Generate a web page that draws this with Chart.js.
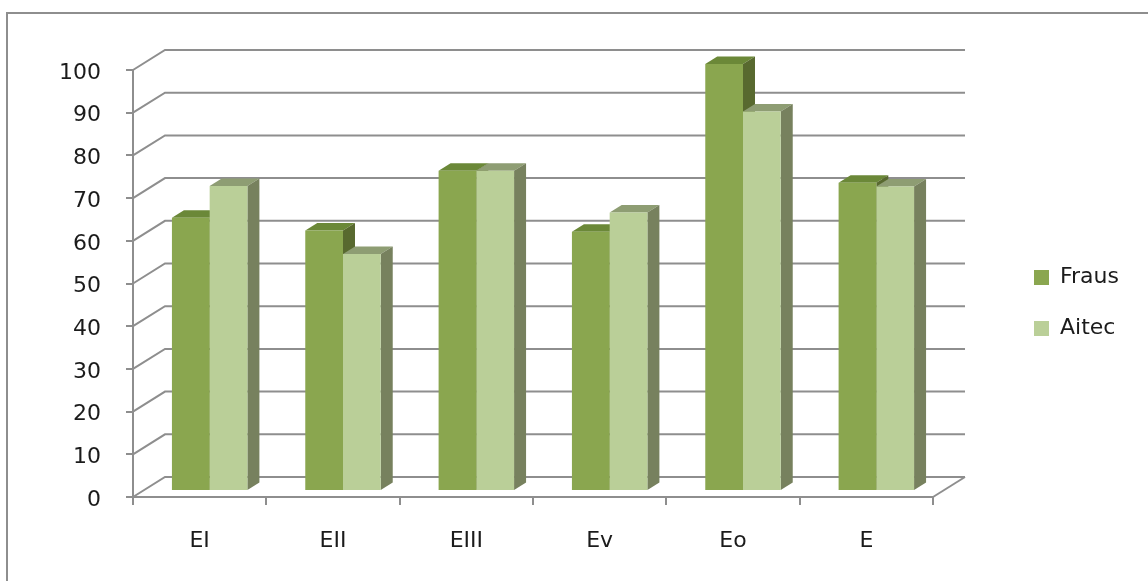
<!DOCTYPE html>
<html>
<head>
<meta charset="utf-8">
<script src="https://cdn.jsdelivr.net/npm/chart.js@4.4.1/dist/chart.umd.min.js"></script>
<style>
  html, body { margin: 0; padding: 0; background: #fff; overflow: hidden; }
  #wrap { position: relative; width: 1148px; height: 581px; overflow: hidden; }
  #frame {
    position: absolute; left: 6px; top: 12px; right: 0; bottom: 0;
    border-left: 2px solid #8e8e8e; border-top: 2px solid #8e8e8e;
  }
  #chart { position: absolute; left: 0; top: 0; }
</style>
</head>
<body>
<div id="wrap">
  <div id="frame"></div>
  <canvas id="chart"></canvas>
</div>
<script>
const labels = ["EI", "EII", "EIII", "Ev", "Eo", "E"];
const fraus = [64, 61, 75, 60.7, 100, 72.2];
const aitec = [71.4, 55.5, 75, 65.2, 88.9, 71.3];
const yTicksMax = 100;

const gridColor = "#8e8e8e";
const textColor = "#1b1b1b";
const font = { family: "DejaVu Sans", size: 22 };

// pseudo 3d offsets
const WALL_DX = 32, WALL_DY = 20;   // back wall
const BAR_DX = 12, BAR_DY = 7.5;    // bar depth
const SHIFT_X = 10, SHIFT_Y = -6;   // bars sit a bit inside the floor

const fake3d = {
  id: "fake3d",
  beforeDatasetsDraw(chart) {
    const { ctx, chartArea: a, scales: { y } } = chart;

    // back wall gridlines + diagonals
    ctx.save();
    ctx.strokeStyle = gridColor;
    ctx.lineWidth = 2;
    y.ticks.forEach((t) => {
      const py = y.getPixelForValue(t.value);
      ctx.beginPath();
      ctx.moveTo(a.left, py);
      ctx.lineTo(a.left + WALL_DX, py - WALL_DY);
      ctx.lineTo(a.right + WALL_DX, py - WALL_DY);
      ctx.stroke();
    });
    ctx.beginPath();
    ctx.moveTo(a.right, a.bottom);
    ctx.lineTo(a.right + WALL_DX, a.bottom - WALL_DY);
    ctx.stroke();
    ctx.restore();

    // tops and sides, fronts are drawn by chart.js after this
    ctx.save();
    ctx.translate(SHIFT_X, SHIFT_Y);
    const sets = chart.data.datasets;
    for (let j = 0; j < labels.length; j++) {
      sets.forEach((ds, i) => {
        const bar = chart.getDatasetMeta(i).data[j];
        const { x, y: top, base, width } = bar.getProps(["x", "y", "base", "width"], true);
        const l = x - width / 2, r = x + width / 2;

        ctx.fillStyle = ds.topColor;
        ctx.beginPath();
        ctx.moveTo(l, top);
        ctx.lineTo(l + BAR_DX, top - BAR_DY);
        ctx.lineTo(r + BAR_DX, top - BAR_DY);
        ctx.lineTo(r, top);
        ctx.closePath();
        ctx.fill();

        ctx.fillStyle = ds.sideColor;
        ctx.beginPath();
        ctx.moveTo(r, top);
        ctx.lineTo(r + BAR_DX, top - BAR_DY);
        ctx.lineTo(r + BAR_DX, base - BAR_DY);
        ctx.lineTo(r, base);
        ctx.closePath();
        ctx.fill();
      });
    }
  },
  afterDatasetsDraw(chart) {
    chart.ctx.restore();
  },
  afterDraw(chart) {
    // legend
    const ctx = chart.ctx;
    ctx.save();
    ctx.font = font.size + "px '" + font.family + "'";
    ctx.textBaseline = "middle";
    chart.data.datasets.forEach((ds, i) => {
      const cy = 277 + i * 51;
      ctx.fillStyle = ds.backgroundColor;
      ctx.fillRect(1034, cy - 7, 15, 15);
      ctx.fillStyle = textColor;
      ctx.fillText(ds.label, 1060, cy);
    });
    ctx.restore();
  },
};

new Chart(document.getElementById("chart"), {
  type: "bar",
  data: {
    labels,
    datasets: [
      {
        label: "Fraus",
        data: fraus,
        backgroundColor: "#8aa64f",
        topColor: "#6b8838",
        sideColor: "#58692f",
        clip: false,
      },
      {
        label: "Aitec",
        data: aitec,
        backgroundColor: "#bacf98",
        topColor: "#8e9d73",
        sideColor: "#77815e",
        clip: false,
      },
    ],
  },
  options: {
    responsive: true,
    maintainAspectRatio: false,
    animation: false,
    events: [],
    layout: { padding: { left: 0, top: 70, right: 215, bottom: 0 } },
    datasets: {
      bar: { categoryPercentage: 0.566, barPercentage: 1 },
    },
    plugins: {
      legend: { display: false },
      tooltip: { enabled: false },
    },
    scales: {
      x: {
        grid: { drawOnChartArea: false, drawTicks: true, tickLength: 8, color: gridColor, lineWidth: 2 },
        border: { color: gridColor, width: 2 },
        ticks: { font, color: textColor, padding: 23 },
        afterFit(scale) { scale.height = 84; },
      },
      y: {
        min: 0,
        max: yTicksMax,
        grid: { drawOnChartArea: false, drawTicks: true, tickLength: 7, color: gridColor, lineWidth: 2 },
        border: { color: gridColor, width: 2 },
        ticks: { font, color: textColor, stepSize: 10, padding: 25, labelOffset: 3 },
        afterFit(scale) { scale.width = 133; },
      },
    },
  },
  plugins: [fake3d],
});
</script>
</body>
</html>
